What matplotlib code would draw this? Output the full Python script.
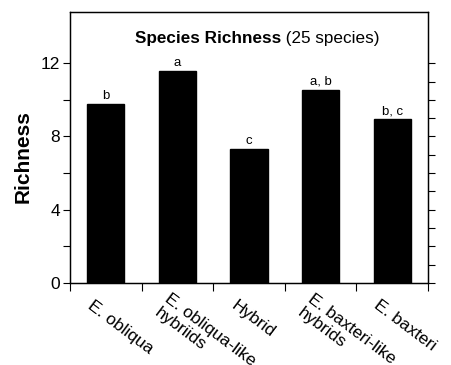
import matplotlib.pyplot as plt
from matplotlib.ticker import FixedLocator, NullFormatter

plt.rcParams['font.family'] = ['Liberation Sans', 'DejaVu Sans']

# Data
groups = ['E. obliqua', 'E. obliqua-like\nhybriids', 'Hybrid',
          'E. baxteri-like\nhybrids', 'E. baxteri']
richness = [9.76, 11.56, 7.31, 10.55, 8.95]
letters = ['b', 'a', 'c', 'a, b', 'b, c']

fig = plt.figure(figsize=(4.51, 3.65), dpi=100)
ax = fig.add_axes([0.155, 0.225, 0.794, 0.742])

x = range(len(groups))
ax.bar(x, richness, width=0.52, color='black', edgecolor='black')

# significance letters above bars
for xi, v, lab in zip(x, richness, letters):
    ax.annotate(lab, xy=(xi, v), xytext=(0, 2), textcoords='offset pixels',
                ha='center', va='bottom', fontsize=9.5)

ax.set_xlim(-0.5, len(groups) - 0.5)
ax.set_ylim(0, 14.8)

# x ticks at group boundaries, labels placed manually
ax.xaxis.set_major_locator(FixedLocator([i - 0.5 for i in range(len(groups) + 1)]))
ax.xaxis.set_major_formatter(NullFormatter())
ax.tick_params(axis='x', direction='out', length=6, width=0.8)
for xi, g in zip(x, groups):
    ax.annotate(g, xy=(xi, 0), xycoords=('data', 'axes fraction'),
                xytext=(-16, -21), textcoords='offset pixels',
                rotation=-37, rotation_mode='anchor', ha='left',
                va='center', fontsize=12.5, linespacing=1.2)

# left y axis: labels every 4, ticks every 2
ax.yaxis.set_major_locator(FixedLocator([0, 4, 8, 12]))
ax.yaxis.set_minor_locator(FixedLocator([2, 6, 10]))
ax.tick_params(axis='y', which='both', direction='out', length=5, width=0.8,
               labelsize=12.5, pad=2)
ax.set_ylabel('Richness', fontsize=15, fontweight='bold')
ax.yaxis.set_label_coords(-0.105, 0.465)

# right y axis: ticks every 1, no labels
ax2 = ax.twinx()
ax2.set_ylim(ax.get_ylim())
ax2.yaxis.set_major_locator(FixedLocator(list(range(0, 13))))
ax2.yaxis.set_major_formatter(NullFormatter())
ax2.tick_params(axis='y', direction='out', length=5, width=0.8)

for a in (ax, ax2):
    for s in a.spines.values():
        s.set_linewidth(0.9)

# title: bold part + regular part
t = ax.text(0.182, 0.886, 'Species Richness', transform=ax.transAxes,
            fontsize=12.3, fontweight='bold', ha='left', va='baseline')
ax.annotate(' (25 species)', xy=(1, 0), xycoords=t, ha='left', va='bottom',
            fontsize=12.3)

fig.savefig('out.png', dpi=100)
